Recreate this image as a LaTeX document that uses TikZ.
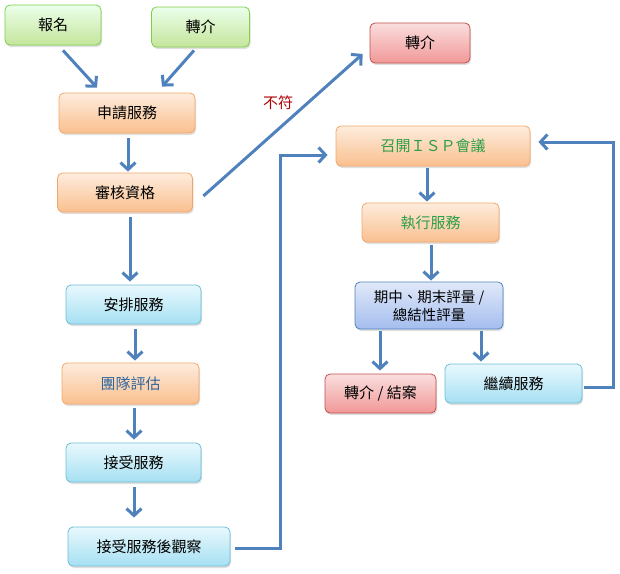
\documentclass[tikz,border=0pt]{standalone}
\usepackage{fontspec}
\newfontfamily\cjk{Noto Sans CJK TC}
\usepackage{tikz}
\usetikzlibrary{shadows}
\usetikzlibrary{arrows.meta}
\definecolor{arrowblue}{HTML}{4F81BD}
\definecolor{ispgreen}{HTML}{2E9E48}
\definecolor{teamblue}{HTML}{31659C}
\definecolor{nofitred}{HTML}{B00000}
\tikzset{
    box/.style = {rectangle, rounded corners=5pt, line width=0.8pt, align=center, inner sep=0pt,
                  font=\cjk\fontsize{15}{18}\selectfont,
                  drop shadow={shadow xshift=1pt, shadow yshift=-2pt, opacity=0.25}},
    boxg/.style = {box, draw=green!45!olive!70, top color=green!8!white, bottom color={rgb,255:red,197;green,229;blue,155}},
    boxo/.style = {box, draw={rgb,255:red,244;green,166;blue,106}, top color={rgb,255:red,253;green,236;blue,221}, bottom color={rgb,255:red,250;green,192;blue,143}},
    boxb/.style = {box, draw={rgb,255:red,110;green,190;blue,212}, top color={rgb,255:red,232;green,248;blue,253}, bottom color={rgb,255:red,166;green,224;blue,243}},
    boxr/.style = {box, draw={rgb,255:red,192;green,80;blue,77}, top color={rgb,255:red,250;green,222;blue,222}, bottom color={rgb,255:red,240;green,152;blue,151}},
    boxp/.style = {box, draw={rgb,255:red,79;green,129;blue,189}, top color={rgb,255:red,225;green,233;blue,249}, bottom color={rgb,255:red,164;green,189;blue,238}},
    lbl/.style = {inner sep=0pt, font=\cjk\fontsize{15}{18}\selectfont, text=nofitred},
    edgen/.style = {-{Straight Barb[length=7pt,width=15pt]}, line width=3pt, arrowblue},
}
\begin{document}
\begin{tikzpicture}[x=1pt,y=-1pt]
\useasboundingbox (0,0) rectangle (620,573);
%
\node[boxg, minimum width=96pt, minimum height=40pt] at (53, 25) (reg) {報名};
\node[boxg, minimum width=98pt, minimum height=40pt] at (200.5, 27) (refA) {轉介};
\node[boxo, minimum width=136pt, minimum height=40pt] at (127, 113) (apply) {申請服務};
\node[boxo, minimum width=135pt, minimum height=39pt] at (125, 192.5) (check) {審核資格};
\node[boxb, minimum width=135pt, minimum height=39pt] at (133.5, 304.5) (arrange) {安排服務};
\node[boxo, minimum width=137pt, minimum height=41pt, text=teamblue] at (130.5, 383.5) (team) {團隊評估};
\node[boxb, minimum width=135pt, minimum height=39pt] at (133.5, 462.5) (recv) {接受服務};
\node[boxb, minimum width=162pt, minimum height=39pt] at (149, 546.5) (obs) {接受服務後觀察};
%
\node[boxr, minimum width=100pt, minimum height=40pt] at (420, 43) (refB) {轉介};
\node[boxo, minimum width=194pt, minimum height=40pt, text=ispgreen] at (433, 146) (isp) {召開ＩＳＰ會議};
\node[boxo, minimum width=137pt, minimum height=39pt, text=ispgreen] at (430.5, 222.5) (exec) {執行服務};
\node[boxp, minimum width=148pt, minimum height=47pt, font=\cjk\fontsize{14.5}{18}\selectfont] at (429, 305.5) (eval) {期中、期末評量 /\\總結性評量};
\node[boxr, minimum width=111pt, minimum height=39pt] at (380.5, 393.5) (close) {轉介 / 結案};
\node[boxb, minimum width=137pt, minimum height=39pt] at (513.5, 383.5) (cont) {繼續服務};
%
\draw[edgen] ([xshift=10pt,yshift=-5pt]reg.south) -- ([xshift=-30pt,yshift=5pt]apply.north);
\draw[edgen] ([xshift=-6.5pt,yshift=-3pt]refA.south) -- ([xshift=35pt,yshift=6pt]apply.north);
\draw[edgen, shorten <=5pt, shorten >=1pt] ([xshift=1pt]apply.south) -- ([xshift=3pt]check.north);
\draw[edgen, shorten <=5pt, shorten >=3pt] ([xshift=5pt]check.south) -- ([xshift=-3.5pt]arrange.north);
\draw[edgen, shorten <=5pt, shorten >=2pt] ([xshift=1.5pt]arrange.south) -- ([xshift=4.5pt]team.north);
\draw[edgen, shorten <=4pt, shorten >=3pt] ([xshift=3.5pt]team.south) -- ([xshift=0.5pt]recv.north);
\draw[edgen, shorten <=5pt, shorten >=9pt] ([xshift=0.5pt]recv.south) -- ([xshift=-15pt]obs.north);
\draw[edgen] ([xshift=10.5pt,yshift=-3.5pt]check.east) -- node[lbl, pos=0.47, above=18pt] {不符} ([xshift=-7pt,yshift=-11pt]refB.west);
%
\draw[edgen, shorten <=2pt, shorten >=1pt] ([xshift=-6pt]isp.south) -- ([xshift=-3.5pt]exec.north);
\draw[edgen, shorten <=3pt, shorten >=1pt] ([xshift=0.5pt]exec.south) -- ([xshift=2pt]eval.north);
\draw[edgen, shorten <=2pt, shorten >=3pt] ([xshift=-49pt]eval.south) -- ([xshift=-0.5pt]close.north);
\draw[edgen, shorten <=2pt, shorten >=2pt] ([xshift=52pt]eval.south) -- ([xshift=-32.5pt]cont.north);
%
\draw[edgen, shorten <=5pt, shorten >=8pt] ([yshift=-1.5pt]obs.east) -- ++(50,0) |- ([yshift=-9pt]isp.west);
\draw[edgen, shorten <=2pt, shorten >=8pt] ([yshift=-3.5pt]cont.east) -- ++(31,0) |- ([yshift=4pt]isp.east);

\end{tikzpicture}
\end{document}
